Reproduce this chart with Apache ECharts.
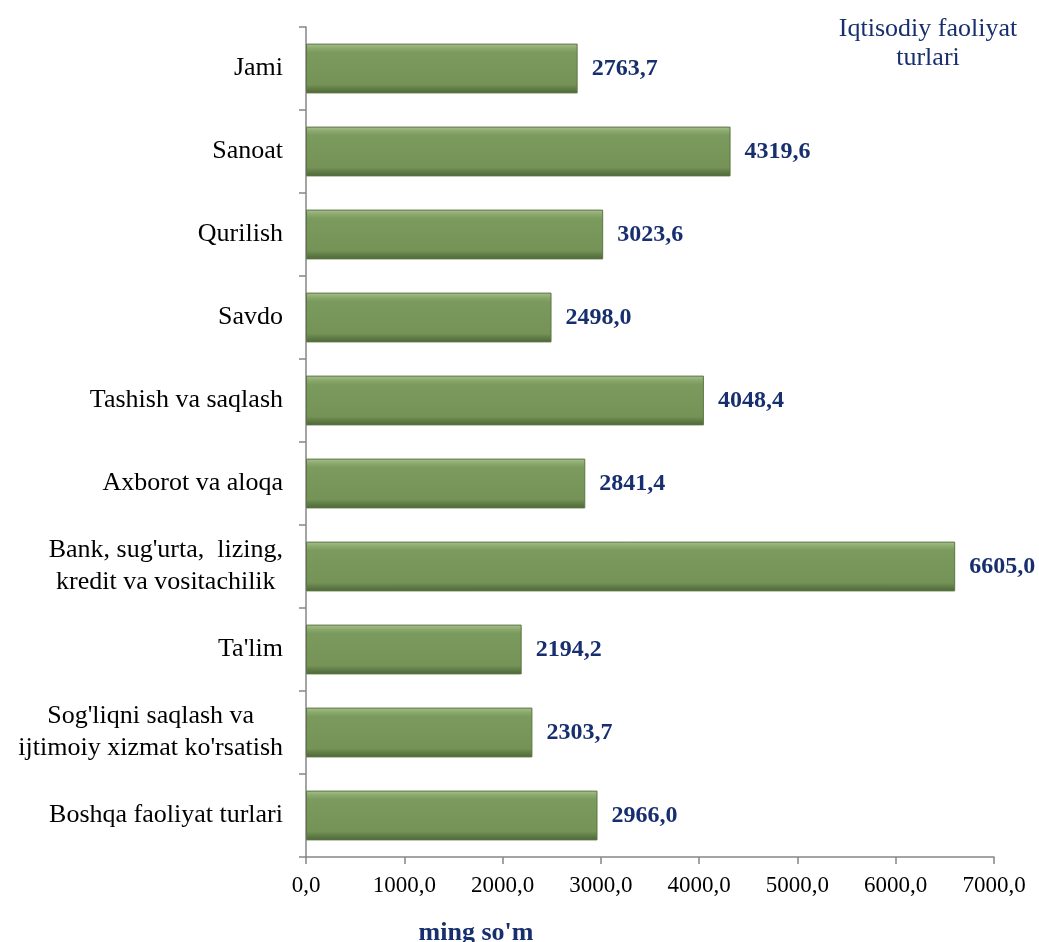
<!DOCTYPE html>
<html>
<head>
<meta charset="utf-8">
<script src="https://cdn.jsdelivr.net/npm/echarts@6/dist/echarts.min.js"></script>
<style>html,body{margin:0;padding:0;background:#fff}#c{width:1039px;height:942px}</style>
</head>
<body>
<div id="c"></div>
<script>
const categories = ["Jami","Sanoat","Qurilish","Savdo","Tashish va saqlash","Axborot va aloqa","Bank, sug'urta,  lizing,\nkredit va vositachilik","Ta'lim","Sog'liqni saqlash va\nijtimoiy xizmat ko'rsatish","Boshqa faoliyat turlari"];
const values = [2763.7,4319.6,3023.6,2498.0,4048.4,2841.4,6605.0,2194.2,2303.7,2966.0];
const xTicks = [0,1000,2000,3000,4000,5000,6000,7000];
const titleText = "Iqtisodiy faoliyat\nturlari";
const unitText = "ming so'm";

const fmt = v => v.toFixed(1).replace('.', ',');
const chart = echarts.init(document.getElementById('c'), null, {renderer:'canvas'});
const serif = "'Liberation Serif', 'Times New Roman', serif";
chart.setOption({
  animation:false,
  backgroundColor:'#fff',
  title:[
    {text:titleText, left:923, top:10, textAlign:'center',
     textStyle:{fontFamily:serif, fontSize:26, fontWeight:'normal', color:'#172f6e', lineHeight:29, align:'center'}},
    {text:unitText, left:471, top:915, textAlign:'center',
     textStyle:{fontFamily:serif, fontSize:26, fontWeight:'bold', color:'#172f6e'}}
  ],
  grid:{left:306, right:45, top:27, bottom:85, containLabel:false},
  xAxis:{type:'value', min:0, max:7000, interval:1000,
    axisLine:{show:true, lineStyle:{color:'#868686', width:1.5}},
    axisTick:{show:true, length:7, lineStyle:{color:'#868686', width:1.5}},
    splitLine:{show:false},
    axisLabel:{fontFamily:serif, fontSize:23, color:'#000', margin:17, formatter:v=>fmt(v)}
  },
  yAxis:{type:'category', inverse:true, data:categories,
    axisLine:{show:true, lineStyle:{color:'#868686', width:1.5}},
    axisTick:{show:true, length:7, lineStyle:{color:'#868686', width:1.5}},
    axisLabel:{fontFamily:serif, fontSize:26, color:'#000', margin:23, lineHeight:32, align:'right',
      formatter:v=>v.split('\n').map(s=>'{c|'+s+'}').join('\n'),
      rich:{c:{fontFamily:serif, fontSize:26, color:'#000', lineHeight:32, align:'center'}}
    }
  },
  series:[{
    type:'bar', data:values, barCategoryGap:'40%',
    itemStyle:{
      color:new echarts.graphic.LinearGradient(0,0,0,1,[
        {offset:0,color:'#a7c18c'},{offset:0.1,color:'#8aa86d'},{offset:0.18,color:'#7b9a5d'},
        {offset:0.82,color:'#759356'},{offset:0.9,color:'#627e48'},{offset:1,color:'#4d6636'}]),
      borderColor:'#5c7643', borderWidth:1
    },
    label:{show:true, position:'right', distance:14, formatter:p=>fmt(p.value),
      fontFamily:serif, fontSize:24, fontWeight:'bold', color:'#172f6e'}
  }]
});
</script>
</body>
</html>
